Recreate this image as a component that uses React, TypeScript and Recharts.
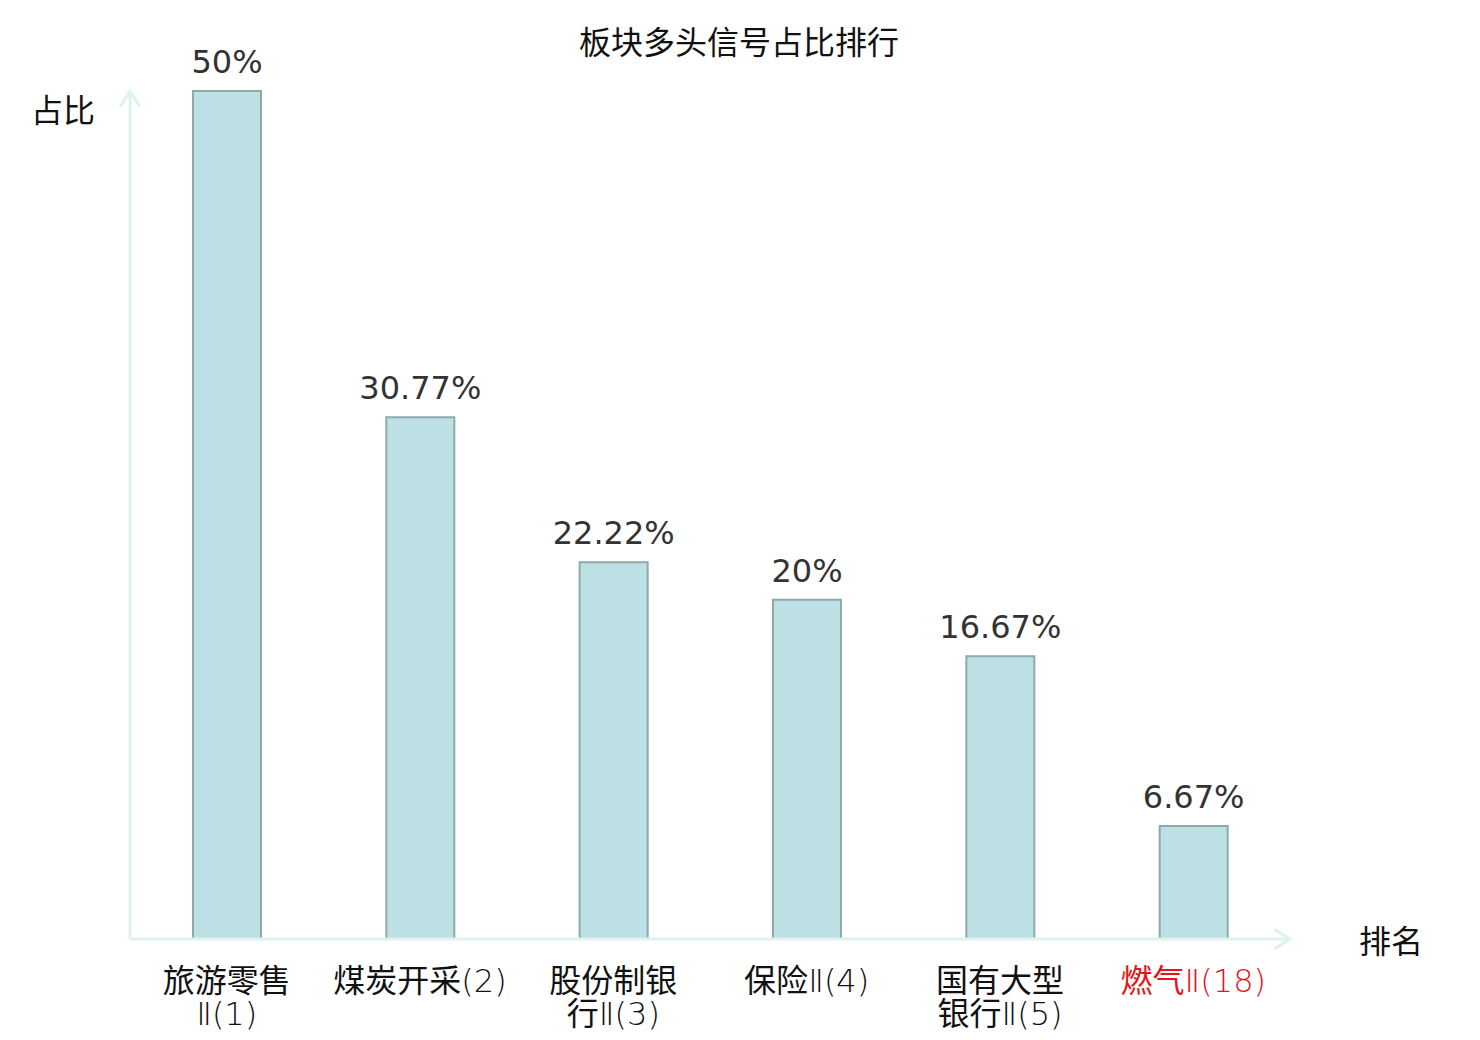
import { BarChart, Bar, XAxis, YAxis, LabelList } from "recharts";

// 板块多头信号占比排行 — share of long signals per sector
const CATEGORY_LINES = [
  ["旅游零售", "Ⅱ(1)"],
  ["煤炭开采(2)"],
  ["股份制银", "行Ⅱ(3)"],
  ["保险Ⅱ(4)"],
  ["国有大型", "银行Ⅱ(5)"],
  ["燃气Ⅱ(18)"],
];
const SHARES = [50, 30.77, 22.22, 20, 16.67, 6.67];
const HIGHLIGHTED = [false, false, false, false, false, true];

const DATA = CATEGORY_LINES.map((lines, i) => ({
  name: lines.join(""),
  value: SHARES[i],
}));

const AXIS_COLOR = "#def2ef";
const CJK = '"Noto Sans CJK SC", "DejaVu Sans", sans-serif';
const NUM = '"DejaVu Sans", "Noto Sans CJK SC", sans-serif';

// split a label line into runs of Han glyphs and everything else
function runs(line: string) {
  return line.match(/[\u4e00-\u9fff]+|[^\u4e00-\u9fff]+/g) || [];
}

function CategoryTick(props: any) {
  const { x, y, index } = props;
  const lines = CATEGORY_LINES[index] || [];
  const color = HIGHLIGHTED[index] ? "#e3161c" : "#111";
  return (
    <g>
      {lines.map((line, k) => (
        <text key={k} x={x} y={y + 45 + k * 33} textAnchor="middle" fontSize={32} fill={color}>
          {runs(line).map((r, j) =>
            /[\u4e00-\u9fff]/.test(r) ? (
              <tspan key={j} fontFamily={CJK}>{r}</tspan>
            ) : (
              <tspan key={j} fontFamily='"DejaVu Sans"' fontWeight={200}>{r}</tspan>
            )
          )}
        </text>
      ))}
    </g>
  );
}

export default function App() {
  return (
    <div style={{ position: "absolute", left: 0, top: 0, width: 1480, height: 1040, background: "#fff" }}>
      <svg width={0} height={0} style={{ position: "absolute" }}>
        <defs>
          <marker
            id="arrowHead"
            viewBox="0 0 26 26"
            refX={21}
            refY={13}
            markerWidth={26}
            markerHeight={26}
            markerUnits="userSpaceOnUse"
            orient="auto-start-reverse"
          >
            <path d="M 5 3 L 21 13 L 5 23" fill="none" stroke={AXIS_COLOR} strokeWidth={3} />
          </marker>
        </defs>
      </svg>
      <BarChart
        width={1480}
        height={1040}
        data={DATA}
        margin={{ top: 91, right: 190, left: 129, bottom: 41 }}
      >
        <XAxis
          dataKey="name"
          height={60}
          axisLine={{ stroke: AXIS_COLOR, strokeWidth: 3, markerEnd: "url(#arrowHead)" }}
          tickLine={false}
          tick={<CategoryTick />}
          interval={0}
        />
        <YAxis
          width={1}
          domain={[0, 50]}
          tick={false}
          tickLine={false}
          axisLine={{ stroke: AXIS_COLOR, strokeWidth: 3, markerStart: "url(#arrowHead)" }}
        />
        <Bar
          dataKey="value"
          fill="#bce0e3"
          stroke="#8fa9ab"
          strokeWidth={2}
          barSize={68}
          isAnimationActive={false}
        >
          <LabelList
            dataKey="value"
            position="top"
            offset={18}
            fill="#333"
            fontSize={32}
            fontFamily={NUM}
            formatter={(v: any) => `${v}%`}
          />
        </Bar>
      </BarChart>
      <svg width={1480} height={1040} style={{ position: "absolute", left: 0, top: 0, pointerEvents: "none" }}>
        <text x={739} y={54} textAnchor="middle" fontSize={32} fontFamily={CJK} fill="#111">
          板块多头信号占比排行
        </text>
        <text x={63} y={122} textAnchor="middle" fontSize={32} fontFamily={CJK} fill="#111">
          占比
        </text>
        <text x={1391} y={953} textAnchor="middle" fontSize={32} fontFamily={CJK} fill="#111">
          排名
        </text>
      </svg>
    </div>
  );
}
